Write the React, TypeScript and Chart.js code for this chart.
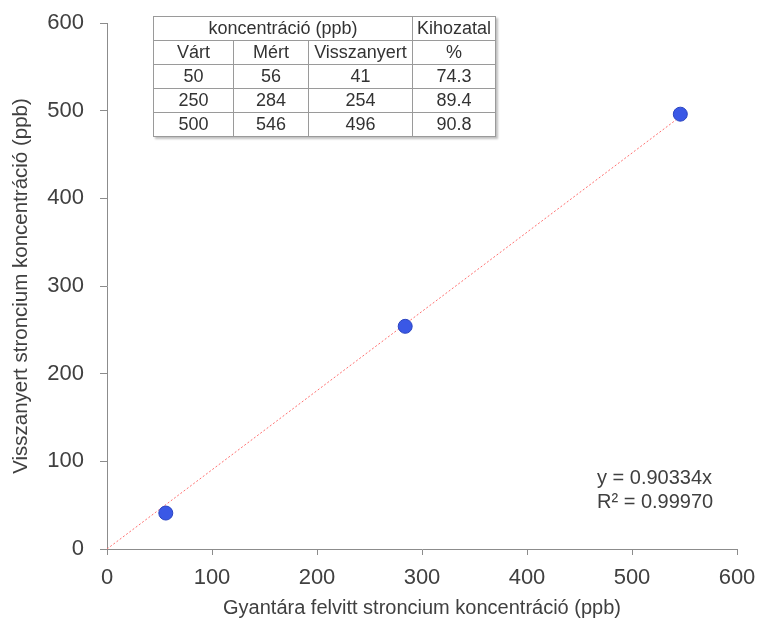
import React, { useEffect, useRef } from "react";
import Chart from "chart.js/auto";

// ---- data ----
const EXPECTED = [50, 250, 500];
const MEASURED = [56, 284, 546];
const RECOVERED = [41, 254, 496];
const RECOVERY_PCT = ["74.3", "89.4", "90.8"];
const TREND_SLOPE = 0.90334;
const R_SQUARED = "0.99970";
const TREND_X = [0, 550];
const X_MIN = 0, X_MAX = 600, Y_MIN = 0, Y_MAX = 600, STEP = 100;

const X_TITLE = "Gyantára felvitt stroncium koncentráció (ppb)";
const Y_TITLE = "Visszanyert stroncium koncentráció (ppb)";
const TABLE_HEAD = ["koncentráció (ppb)", "Kihozatal"];
const TABLE_SUB = ["Várt", "Mért", "Visszanyert", "%"];

const FONT = "'Liberation Sans', Arial, sans-serif";
const TEXT = "#404040";
const AXIS = "#8c8c8c";

export default function App() {
  const ref = useRef<HTMLCanvasElement | null>(null);

  useEffect(() => {
    if (!ref.current) return;
    const chart = new Chart(ref.current, {
      type: "scatter",
      data: {
        datasets: [
          {
            type: "line",
            label: "trend",
            data: TREND_X.map((x) => ({ x, y: TREND_SLOPE * x })),
            borderColor: "#ff7070",
            borderWidth: 1,
            borderDash: [2, 2],
            pointRadius: 0,
            fill: false,
            order: 2,
          },
          {
            label: "points",
            data: MEASURED.map((x, i) => ({ x, y: RECOVERED[i] })),
            backgroundColor: "#3a58e6",
            borderColor: "#2a44c0",
            borderWidth: 1,
            pointRadius: 7,
            order: 1,
          },
        ],
      },
      options: {
        responsive: false,
        animation: false,
        events: [],
        layout: { padding: { left: 0, right: 26, top: 23, bottom: 0 } },
        plugins: { legend: { display: false }, tooltip: { enabled: false } },
        scales: {
          x: {
            type: "linear",
            min: X_MIN,
            max: X_MAX,
            ticks: { stepSize: STEP, color: TEXT, font: { family: FONT, size: 22 }, padding: 10 },
            grid: { drawOnChartArea: false, drawTicks: true, tickLength: 6, color: AXIS },
            border: { color: AXIS, width: 1 },
            title: {
              display: true,
              text: X_TITLE,
              color: TEXT,
              font: { family: FONT, size: 20 },
              padding: { top: 4, bottom: 4 },
            },
            afterFit: (s: any) => {
              s.height = 75;
              s.paddingLeft = 0;
              s.paddingRight = 0;
            },
          },
          y: {
            type: "linear",
            min: Y_MIN,
            max: Y_MAX,
            ticks: { stepSize: STEP, color: TEXT, font: { family: FONT, size: 22 }, padding: 16 },
            grid: { drawOnChartArea: false, drawTicks: true, tickLength: 7, color: AXIS },
            border: { color: AXIS, width: 1 },
            title: {
              display: true,
              text: Y_TITLE,
              color: TEXT,
              font: { family: FONT, size: 20.5 },
              padding: { top: 9, bottom: 4 },
            },
            afterFit: (s: any) => {
              s.width = 107;
              s.paddingTop = 0;
              s.paddingBottom = 0;
            },
          },
        },
      },
    });
    return () => chart.destroy();
  }, []);

  const cell: React.CSSProperties = {
    border: "1px solid #9a9a9a",
    padding: 0,
    textAlign: "center",
    height: 23,
    lineHeight: "23px",
    whiteSpace: "nowrap",
    overflow: "hidden",
  };
  const colW = [80, 75, 104, 83];

  return (
    <div style={{ position: "absolute", left: 0, top: 0, width: 763, height: 624, background: "#fff" }}>
      <canvas ref={ref} width={763} height={624} style={{ display: "block" }} />
      <table
        style={{
          position: "absolute",
          left: 153,
          top: 16,
          borderCollapse: "collapse",
          background: "#fff",
          fontFamily: FONT,
          fontSize: 18,
          color: "#333",
          tableLayout: "fixed",
          width: 342,
          boxShadow: "2px 2px 2px rgba(0,0,0,0.25)",
        }}
      >
        <colgroup>
          {colW.map((w, i) => (
            <col key={i} style={{ width: w }} />
          ))}
        </colgroup>
        <tbody>
          <tr>
            <td style={cell} colSpan={3}>{TABLE_HEAD[0]}</td>
            <td style={cell}>{TABLE_HEAD[1]}</td>
          </tr>
          <tr>
            {TABLE_SUB.map((t, i) => (
              <td key={i} style={cell}>{t}</td>
            ))}
          </tr>
          {EXPECTED.map((e, i) => (
            <tr key={i}>
              <td style={cell}>{e}</td>
              <td style={cell}>{MEASURED[i]}</td>
              <td style={cell}>{RECOVERED[i]}</td>
              <td style={cell}>{RECOVERY_PCT[i]}</td>
            </tr>
          ))}
        </tbody>
      </table>
      <div
        style={{
          position: "absolute",
          left: 597,
          top: 465,
          fontFamily: FONT,
          fontSize: 20,
          lineHeight: "24px",
          color: TEXT,
          whiteSpace: "nowrap",
        }}
      >
        <div>y = {TREND_SLOPE.toFixed(5)}x</div>
        <div>R² = {R_SQUARED}</div>
      </div>
    </div>
  );
}
